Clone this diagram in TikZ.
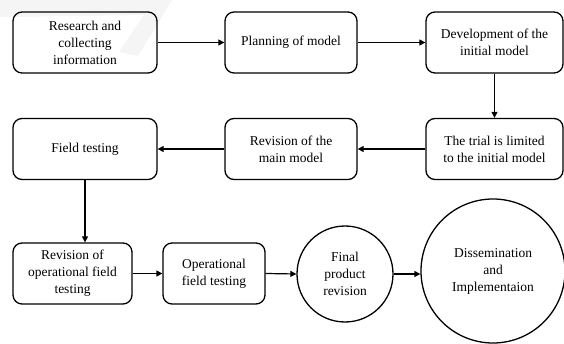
\documentclass[tikz,border=0pt]{standalone}
\usepackage{fontspec}
\setmainfont{Liberation Serif}
\usetikzlibrary{arrows.meta}
\begin{document}
\begin{tikzpicture}[x=1pt,y=-1pt,
  box/.style={draw, rounded corners=9pt, line width=1.3pt, align=center, inner sep=0pt,
    minimum height=61pt, font=\fontsize{13.5}{17}\selectfont},
  circ/.style={draw, circle, line width=1.3pt, align=center, inner sep=0pt,
    font=\fontsize{13.5}{17}\selectfont},
  arr/.style={-{Triangle[length=6pt,width=6pt]}, line width=1.2pt}]
\useasboundingbox (0,0) rectangle (564,344);
% faint watermark
\fill[gray!8] (0,0) -- (172,0) -- (138,56) -- (119,52) -- (144,15) -- (0,17) -- cycle;
% row 1
\node[box, minimum width=144pt] (b1) at (85,42.5) {Research and\\collecting\\information};
\node[box, minimum width=132pt] (b2) at (291,42.5) {Planning of model};
\node[box, minimum width=137pt] (b3) at (494.5,42.5) {Development of the\\initial model};
% row 2
\node[box, minimum width=144pt] (b4) at (85,149) {Field testing};
\node[box, minimum width=132pt] (b5) at (291,149) {Revision of the\\main model};
\node[box, minimum width=137pt] (b6) at (494.5,149) {The trial is limited\\to the initial model};
% row 3
\node[box, minimum width=119pt] (b7) at (72.5,273.5) {Revision of\\operational field\\testing};
\node[box, minimum width=102pt] (b8) at (214,273.5) {Operational\\field testing};
\node[circ, minimum size=96pt] (c1) at (345,274) {Final\\product\\revision};
\node[circ, minimum size=144pt] (c2) at (493,271) {Dissemination\\and\\Implementaion};
% connectors
\draw[arr] (b1.east) -- (b2.west);
\draw[arr] (b2.east) -- (b3.west);
\draw[arr] (b3.south) -- (b6.north);
\draw[arr] (b6.west) -- (b5.east);
\draw[arr] (b5.west) -- (b4.east);
\draw[arr] (b4.south) -- (b4.south |- b7.north);
\draw[arr] (b7.east) -- (b8.west);
\draw[arr] (b8.east) -- (c1.west);
\draw[arr] (c1.east) -- (c1.east -| c2.west);
\end{tikzpicture}
\end{document}
